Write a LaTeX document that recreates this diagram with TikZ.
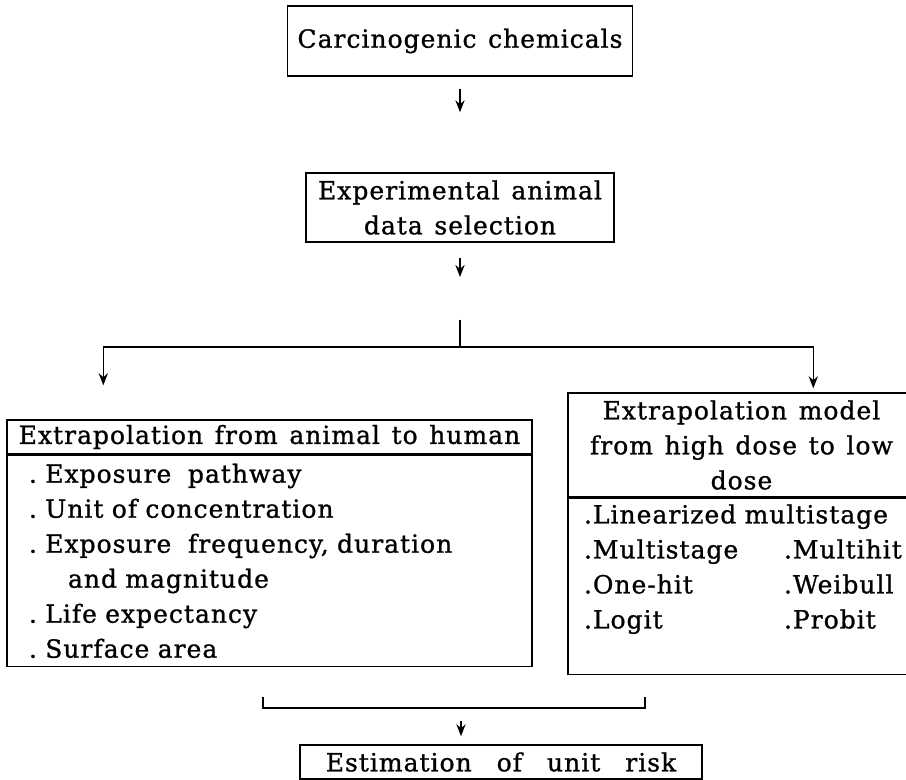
\documentclass[tikz,border=0pt]{standalone}
\usepackage{fontspec}
\newfontfamily\chartfont[LetterSpace=4, WordSpace=1.3, FakeBold=1]{DejaVu Serif}
\usetikzlibrary{arrows.meta, positioning}

\begin{document}
\begin{tikzpicture}[
    x=0.5pt, y=-0.5pt,
    node distance=0pt,
    base/.style = {rectangle, draw, line width=0.7pt, font=\chartfont\fontsize{12.5pt}{17.5pt}\selectfont},
    process/.style = {base, align=center, inner xsep=1pt, inner ysep=1pt},
    itemlist/.style = {base, align=left, inner ysep=0pt},
    >={Stealth[length=6pt, width=4.6pt]}, line width=0.8pt]

    \useasboundingbox (0,0) rectangle (906,780);

    \node[process, minimum width=172.5pt, minimum height=35pt] (chem) at (460,41) {Carcinogenic chemicals};
    \node[process, minimum width=154pt, minimum height=34.5pt] (exp) at (460,207.5) {Experimental animal\\data selection};

    \node[process, minimum width=262.5pt, minimum height=17pt] (hum) at (269.5,437) {Extrapolation from animal to human};
    \node[itemlist, below=of hum, text width=240.5pt, inner xsep=11pt, minimum height=105.5pt] (humlist) {.\ Exposure\ \ pathway\\
        .\ Unit of concentration\\
        .\ Exposure\ \ frequency, duration\\
        \hspace*{19.5pt}and magnitude\\
        .\ Life expectancy\\
        .\ Surface area};

    \node[process, minimum width=173.5pt, minimum height=52pt] (dose) at (741.5,445) {Extrapolation model\\from high dose to low\\dose};
    \node[itemlist, below=of dose, text width=157.5pt, inner xsep=8pt, minimum height=88pt] (doselist) {%
        \begin{tabular}{@{}p{100pt}@{}l@{}}
        \multicolumn{2}{@{}l@{}}{.Linearized multistage}\\
        .Multistage & .Multihit\\
        .One-hit & .Weibull\\
        .Logit & .Probit\\
        &
        \end{tabular}};

    \node[process, minimum width=201pt, minimum height=17pt] (risk) at (501,762) {Estimation\quad of\quad unit\quad risk};

    \coordinate (stem) at (460,320);
    \coordinate (fork) at (460,347);
    \coordinate (jl) at (263,697);
    \coordinate (jr) at (645,697);
    \coordinate (join) at (461,708);

    \draw[->, shorten <=6pt, shorten >=30pt] (chem) -- (exp);
    \draw[->, shorten <=7.5pt, shorten >=21.5pt] (exp) -- (stem);
    \draw (stem) -- (fork);
    \draw[->, shorten >=17pt] (fork) -| ([xshift=48.5pt]hum.north west);
    \draw[->, shorten >=2pt] (fork) -| ([xshift=123pt]dose.north west);
    \draw (jl) |- (join) -| (jr);
    \draw[->, shorten <=6.5pt, shorten >=4pt] (join) -- (join |- risk.north);

\end{tikzpicture}
\end{document}
